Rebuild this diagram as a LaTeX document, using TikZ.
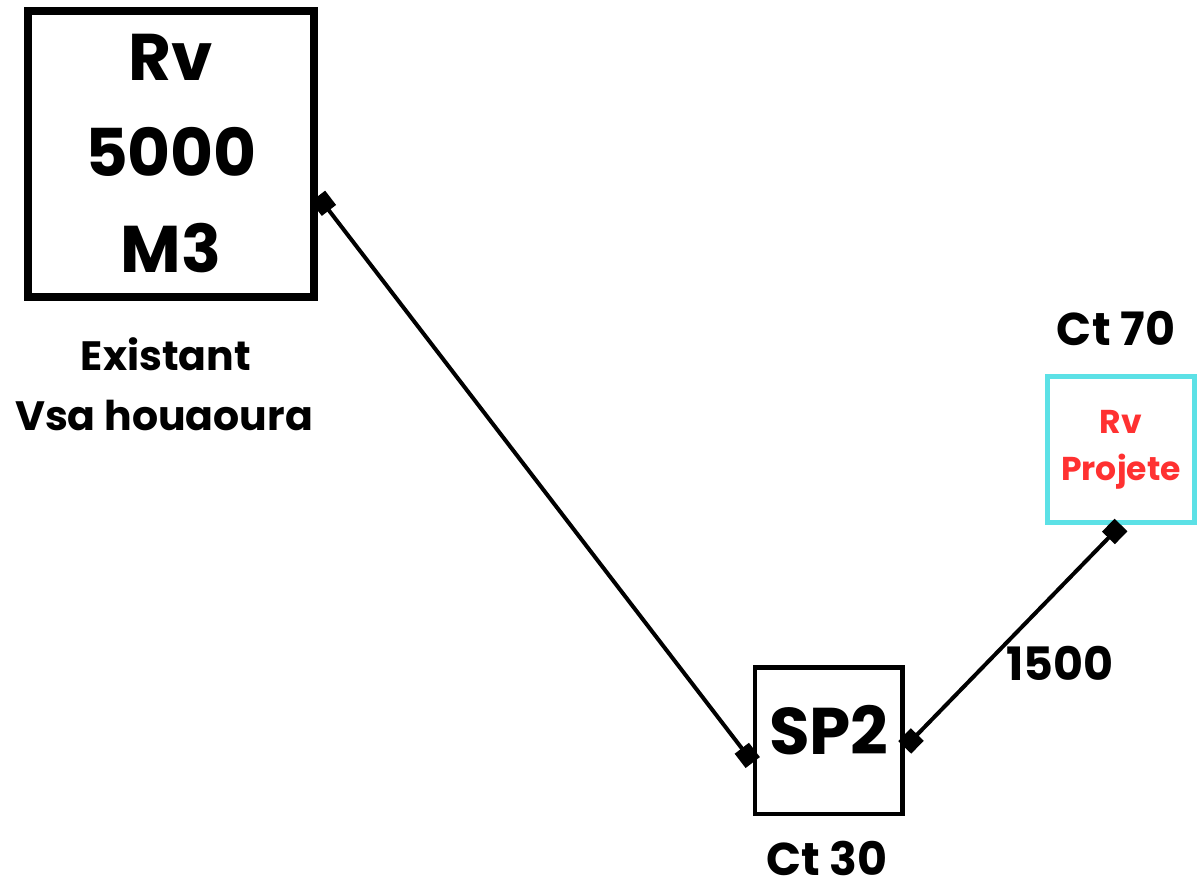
\documentclass[tikz,border=0pt]{standalone}
\usepackage{fontspec}
\setmainfont{Poppins}
\usetikzlibrary{arrows.meta}
\definecolor{cyanb}{HTML}{5CE1E6}
\definecolor{redt}{HTML}{FF3131}
\begin{document}
\begin{tikzpicture}[x=1pt,y=-1pt,
  box/.style={draw, rectangle, inner sep=0pt, align=center},
  lab/.style={anchor=base, inner sep=0pt, font=\bfseries\fontsize{46}{56}\selectfont},
  sublab/.style={anchor=base, inner sep=0pt, font=\bfseries\fontsize{41}{50}\selectfont},
  tipsq/.tip={Square[length=18pt,width=18pt]},
  conn/.style={line width=4pt, tipsq-tipsq},
]
\useasboundingbox (0,0) rectangle (1202,882);
% boxes
\node[box, line width=8pt, minimum width=286pt, minimum height=286pt,
      font=\bfseries\fontsize{66}{96}\selectfont] (rv) at (171,154) {Rv\\5000\\M3};
\node[box, line width=4.5pt, minimum width=147.5pt, minimum height=146.5pt,
      text depth=21.5pt, font=\bfseries\fontsize{66}{80}\selectfont] (sp) at (828.75,740.75) {SP2};
\node[box, draw=cyanb, line width=5pt, minimum width=147pt, minimum height=146pt,
      text=redt, font=\bfseries\fontsize{33}{47}\selectfont] (rvp) at (1121,449.5) {Rv\\Projete};
% labels
\node[sublab] (exist) at (166,371) {Existant};
\node[sublab] (vsa) at (164,430) {Vsa houaoura};
\node[lab] (ct70) at (1116,346) {Ct 70};
\node[lab] (ct30) at (827,875) {Ct 30};
\node[lab] (l1500) at (1060,680) {1500};
% connectors
\draw[conn] (rv.-16.7) -- (sp.196.2);
\draw[conn] (sp.-5) -- (rvp.south);
\end{tikzpicture}
\end{document}
